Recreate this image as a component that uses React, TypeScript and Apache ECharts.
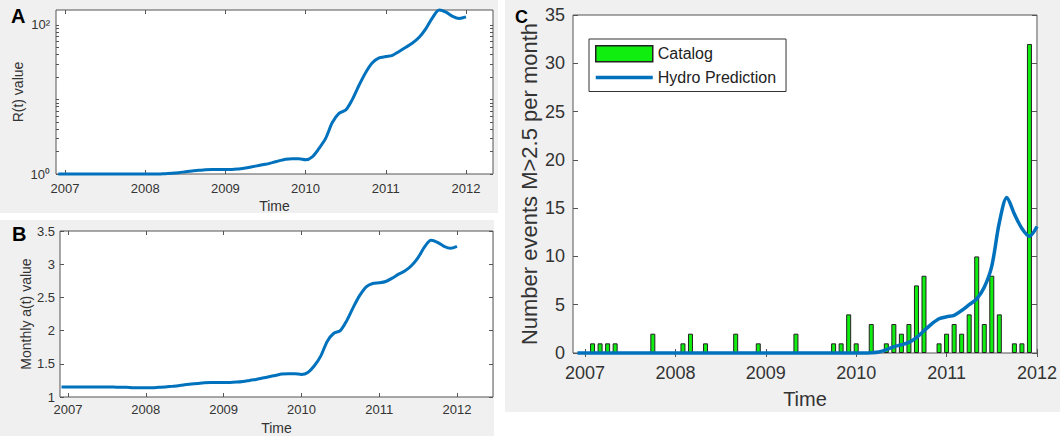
import React, { useEffect, useRef } from "react";
import * as echarts from "echarts";

// Monthly samples, first one is Dec 2006
const START_YEAR = 2006 + 11 / 12;
const yearTicks = [2007, 2008, 2009, 2010, 2011, 2012];

// Panel A: R(t) value (log scale)
const rValues = [
  1.0, 1.0, 1.0, 1.0, 1.0, 1.0, 1.0, 1.0, 1.0, 1.0,
  1.0, 1.0, 1.0, 1.0, 1.0, 1.0, 1.01, 1.02, 1.04, 1.07,
  1.1, 1.12, 1.14, 1.15, 1.15, 1.15, 1.15, 1.17, 1.2, 1.25,
  1.3, 1.35, 1.42, 1.5, 1.58, 1.6, 1.6, 1.55, 1.7, 2.2,
  3.0, 4.9, 6.5, 7.2, 10.0, 15.5, 23, 31, 36, 37.5,
  39, 44, 50, 57, 68, 89, 125, 158, 148, 130,
  122, 128,
];

// Panel B: Monthly a(t) value
const aValues = [
  1.15, 1.15, 1.15, 1.15, 1.15, 1.15, 1.15, 1.15, 1.15, 1.145,
  1.145, 1.14, 1.14, 1.14, 1.14, 1.145, 1.15, 1.16, 1.17, 1.185,
  1.195, 1.205, 1.215, 1.22, 1.22, 1.22, 1.22, 1.225, 1.235, 1.25,
  1.265, 1.285, 1.305, 1.325, 1.345, 1.35, 1.35, 1.34, 1.37, 1.47,
  1.62, 1.84, 1.96, 2.0, 2.15, 2.35, 2.53, 2.66, 2.71, 2.72,
  2.74, 2.79, 2.85, 2.9, 2.98, 3.1, 3.26, 3.36, 3.33, 3.27,
  3.24, 3.27,
];

// Panel C: catalog counts per month (M>2.5)
const catalogCounts = [
  0, 0, 1, 1, 1, 1, 0, 0, 0, 0,
  2, 0, 0, 0, 1, 2, 0, 1, 0, 0,
  0, 2, 0, 0, 1, 0, 0, 0, 0, 2,
  0, 0, 0, 0, 1, 1, 4, 1, 0, 3,
  0, 1, 3, 2, 3, 7, 8, 0, 1, 2,
  3, 2, 4, 10, 3, 8, 4, 0, 1, 1,
  32, 0,
];

// Panel C: hydro prediction
const hydroPrediction = [
  0, 0, 0, 0, 0, 0, 0, 0, 0, 0,
  0, 0, 0, 0, 0, 0, 0, 0, 0, 0,
  0, 0, 0, 0, 0, 0, 0, 0, 0, 0,
  0, 0, 0, 0, 0, 0, 0, 0, 0, 0.02,
  0.1, 0.35, 0.65, 0.85, 1.1, 1.6, 2.3, 3.0, 3.55, 3.75,
  3.9, 4.4, 5.0, 5.6, 6.8, 9.0, 13.5, 16.1, 14.4, 12.9,
  12.1, 13.1,
];

const logLabelValues = [1, 100];
const logTickValues = [1, 2, 3, 4, 5, 6, 7, 8, 9, 10, 20, 30, 40, 50, 60, 70, 80, 90, 100];

const FONT = '"Liberation Sans", Arial, Helvetica, sans-serif';
const BLUE = "#0072bd";
const GREEN = "#10ee10";
const FRAME = "#555555";
const TEXT = "#333333";

const monthX = (i: number) => START_YEAR + i / 12;

function xPair(gridIndex: number, min: number, max: number, fs: number, margin: number, nameSize: number, nameGap: number) {
  const common = {
    type: "value" as const,
    gridIndex,
    min,
    max,
    splitLine: { show: false },
    axisLine: { show: false },
    axisTick: { show: true, inside: true, length: 4, customValues: yearTicks, lineStyle: { color: FRAME } },
  };
  return [
    {
      ...common,
      position: "bottom",
      name: "Time",
      nameLocation: "middle",
      nameGap,
      nameTextStyle: { fontSize: nameSize, color: TEXT, fontFamily: FONT },
      axisLabel: {
        customValues: yearTicks,
        formatter: (v: number) => String(Math.round(v)),
        fontSize: fs,
        color: TEXT,
        fontFamily: FONT,
        margin,
      },
    },
    { ...common, position: "top", axisLabel: { show: false } },
  ];
}

export default function App() {
  const ref = useRef<HTMLDivElement>(null);

  useEffect(() => {
    if (!ref.current) return;
    const chart = echarts.init(ref.current, undefined, { renderer: "svg" });

    const xAxis = [
      ...xPair(0, 2006.888, 2012.337, 13, 8, 14, 25),
      ...xPair(1, 2006.897, 2012.463, 13, 6, 14, 24),
      ...xPair(2, 2006.867, 2012.0, 18, 11, 20, 36),
    ];

    const yAxis: any[] = [
      {
        type: "log",
        logBase: 10,
        gridIndex: 0,
        position: "left",
        min: 1,
        max: 158,
        name: "R(t) value",
        nameLocation: "middle",
        nameGap: 31,
        nameTextStyle: { fontSize: 14, color: TEXT, fontFamily: FONT },
        splitLine: { show: false },
        axisLine: { show: false },
        axisTick: { show: true, inside: true, length: 3, customValues: logTickValues, lineStyle: { color: FRAME } },
        axisLabel: {
          customValues: logLabelValues,
          formatter: (v: number) => (v < 5 ? "10\u2070" : "10\u00b2"),
          fontSize: 13,
          color: TEXT,
          fontFamily: FONT,
          margin: 6,
        },
      },
      {
        type: "log",
        logBase: 10,
        gridIndex: 0,
        position: "right",
        min: 1,
        max: 158,
        splitLine: { show: false },
        axisLine: { show: false },
        axisTick: { show: true, inside: true, length: 3, customValues: logTickValues, lineStyle: { color: FRAME } },
        axisLabel: { show: false },
      },
      {
        type: "value",
        gridIndex: 1,
        position: "left",
        min: 1,
        max: 3.5,
        interval: 0.5,
        name: "Monthly a(t) value",
        nameLocation: "middle",
        nameGap: 27,
        nameTextStyle: { fontSize: 14, color: TEXT, fontFamily: FONT },
        splitLine: { show: false },
        axisLine: { show: false },
        axisTick: { show: true, inside: true, length: 4, lineStyle: { color: FRAME } },
        axisLabel: { fontSize: 13, color: TEXT, fontFamily: FONT, margin: 5 },
      },
      {
        type: "value",
        gridIndex: 1,
        position: "right",
        min: 1,
        max: 3.5,
        interval: 0.5,
        splitLine: { show: false },
        axisLine: { show: false },
        axisTick: { show: true, inside: true, length: 4, lineStyle: { color: FRAME } },
        axisLabel: { show: false },
      },
      {
        type: "value",
        gridIndex: 2,
        position: "left",
        min: 0,
        max: 35,
        interval: 5,
        name: "Number events M>2.5 per month",
        nameLocation: "middle",
        nameGap: 33,
        nameTextStyle: { fontSize: 22, color: TEXT, fontFamily: FONT },
        splitLine: { show: false },
        axisLine: { show: false },
        axisTick: { show: true, inside: true, length: 5, lineStyle: { color: FRAME } },
        axisLabel: { fontSize: 18, color: TEXT, fontFamily: FONT, margin: 8 },
      },
      {
        type: "value",
        gridIndex: 2,
        position: "right",
        min: 0,
        max: 35,
        interval: 5,
        splitLine: { show: false },
        axisLine: { show: false },
        axisTick: { show: true, inside: true, length: 5, lineStyle: { color: FRAME } },
        axisLabel: { show: false },
      },
    ];

    const gridStyle = { show: true, borderColor: FRAME, borderWidth: 1, backgroundColor: "#ffffff" };

    chart.setOption({
      animation: false,
      backgroundColor: "transparent",
      textStyle: { fontFamily: FONT },
      grid: [
        { ...gridStyle, left: 56, top: 10, width: 437, height: 164 },
        { ...gridStyle, left: 60, top: 231, width: 433, height: 166 },
        { ...gridStyle, left: 573, top: 15, width: 464, height: 338 },
      ],
      xAxis,
      yAxis,
      legend: {
        orient: "vertical",
        left: 589,
        top: 39,
        padding: [6, 10, 6, 6],
        itemGap: 7,
        itemWidth: 57,
        itemHeight: 16,
        symbolKeepAspect: true,
        borderColor: "#333",
        borderWidth: 1,
        backgroundColor: "#ffffff",
        borderRadius: 0,
        textStyle: { fontSize: 16, color: "#222", fontFamily: FONT },
        data: [
          { name: "Catalog", icon: "rect", itemStyle: { color: GREEN, borderColor: "#222", borderWidth: 1.5 } },
          {
            name: "Hydro Prediction",
            icon: "path://M0,0L163,0L163,10L0,10Z",
            itemStyle: { color: BLUE, borderWidth: 0 },
          },
        ],
      },
      graphic: [
        { type: "text", left: 11, top: 6, style: { text: "A", font: `bold 20px ${FONT}`, fill: "#000" } },
        { type: "text", left: 12, top: 224, style: { text: "B", font: `bold 20px ${FONT}`, fill: "#000" } },
        { type: "text", left: 515, top: 8, style: { text: "C", font: `bold 18px ${FONT}`, fill: "#000" } },
      ],
      series: [
        {
          type: "line",
          xAxisIndex: 0,
          yAxisIndex: 0,
          data: rValues.map((v, i) => [monthX(i), v]),
          symbol: "none",
          showSymbol: false,
          smooth: 0.3,
          clip: false,
          lineStyle: { color: BLUE, width: 3 },
        },
        {
          type: "line",
          xAxisIndex: 2,
          yAxisIndex: 2,
          data: aValues.map((v, i) => [monthX(i), v]),
          symbol: "none",
          showSymbol: false,
          smooth: 0.3,
          clip: false,
          lineStyle: { color: BLUE, width: 3 },
        },
        {
          name: "Catalog",
          type: "bar",
          xAxisIndex: 4,
          yAxisIndex: 4,
          barWidth: 5,
          data: catalogCounts
            .map((v, i) => [monthX(i), v])
            .filter((d) => d[1] > 0),
          itemStyle: { color: GREEN, borderColor: "#222", borderWidth: 1 },
        },
        {
          name: "Hydro Prediction",
          type: "line",
          xAxisIndex: 4,
          yAxisIndex: 4,
          data: hydroPrediction.map((v, i) => [monthX(i), v]),
          symbol: "none",
          showSymbol: false,
          smooth: 0.3,
          clip: false,
          lineStyle: { color: BLUE, width: 3.5 },
          itemStyle: { color: BLUE },
        },
      ],
    });

    return () => chart.dispose();
  }, []);

  return (
    <div style={{ position: "fixed", left: 0, top: 0, width: 1060, height: 438, background: "#ffffff", overflow: "hidden" }}>
      <div style={{ position: "absolute", left: 0, top: 0, width: 498, height: 213, background: "#f0f0f0" }} />
      <div style={{ position: "absolute", left: 0, top: 220, width: 494, height: 216, background: "#f0f0f0" }} />
      <div style={{ position: "absolute", left: 505, top: 0, width: 555, height: 412, background: "#f0f0f0" }} />
      <div ref={ref} style={{ position: "absolute", left: 0, top: 0, width: 1060, height: 438 }} />
    </div>
  );
}
